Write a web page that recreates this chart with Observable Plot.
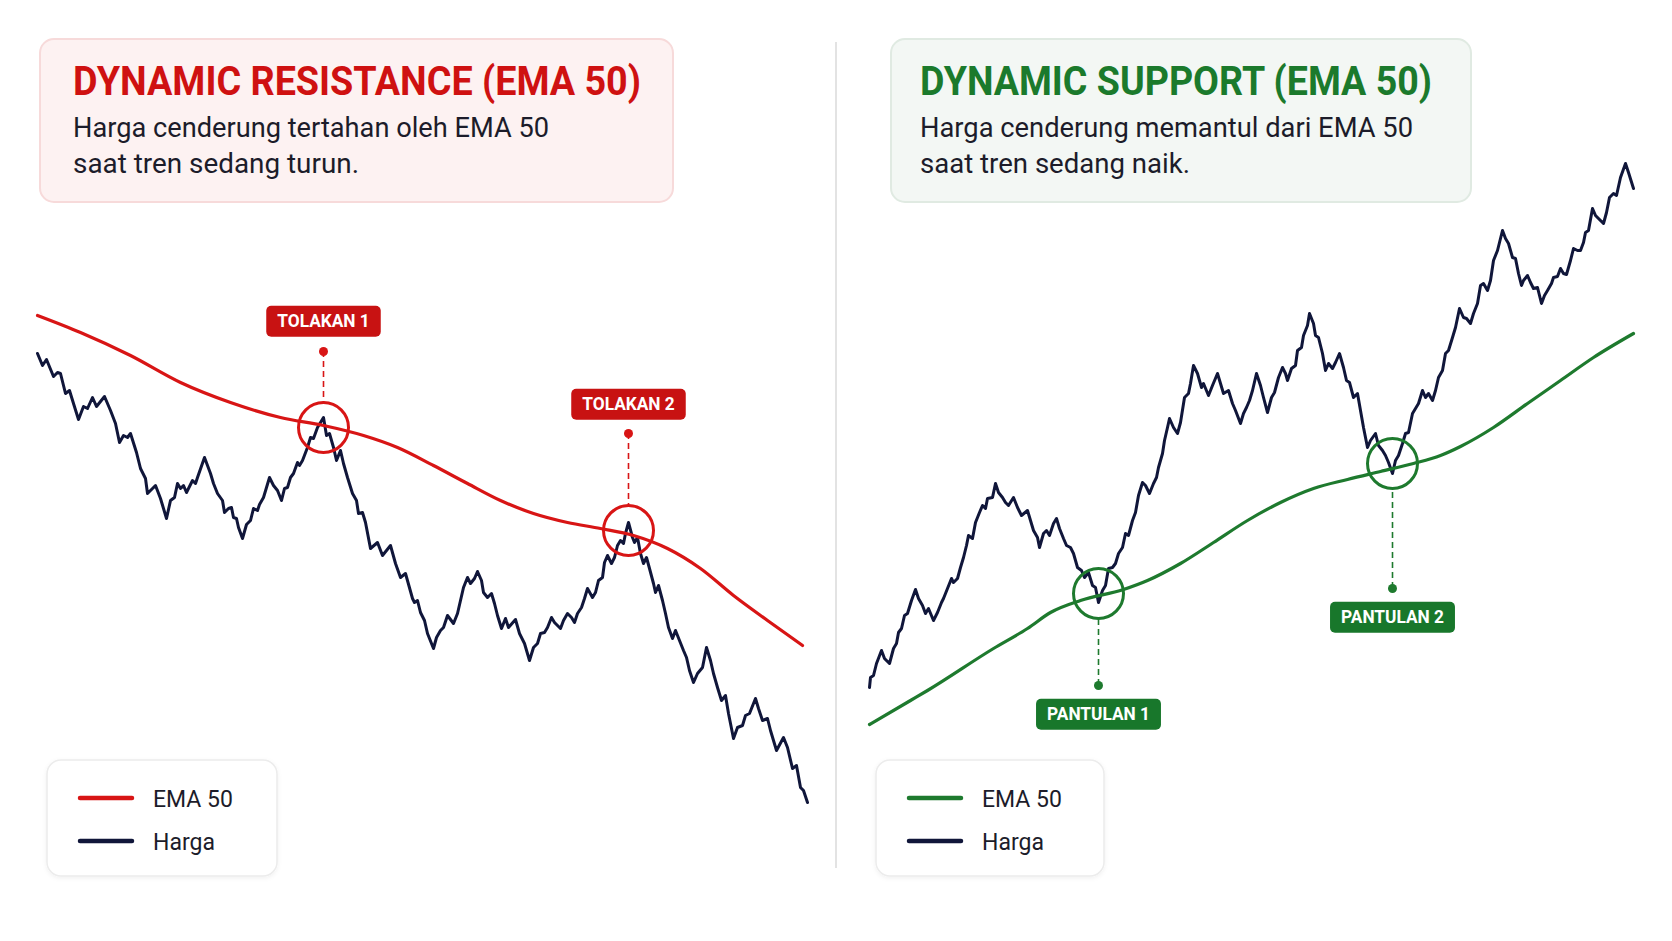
<!DOCTYPE html>
<html><head><meta charset="utf-8">
<script src="https://cdn.jsdelivr.net/npm/d3@7"></script>
<script src="https://cdn.jsdelivr.net/npm/@observablehq/plot@0.6"></script>
<style>
html,body{margin:0;padding:0;background:#fff;}
#wrap{position:relative;width:1672px;height:941px;overflow:hidden;background:#fff;font-family:Roboto,"Noto Sans",sans-serif;}
#left,#right{position:absolute;top:0;width:836px;height:941px;}
#left{left:0}#right{left:836px}
#overlay{position:absolute;left:0;top:0;pointer-events:none;}
</style></head><body>
<div id="wrap"><div id="left"></div><div id="right"></div><svg id="overlay" width="1672" height="941"></svg></div>
<script>
// ---------- DATA ----------
// Left panel (downtrend): [time index, price]
const leftPrice = [[0,547],[5,535],[9,541],[16,524],[20,528],[23,527],[28,507],[32,510],[36,497],[41,481],[46,494],[50,492],[55,503],[59,494],[67,504],[73,490],[78,477],[82,458],[86,465],[90,463],[93,467],[99,448],[103,432],[108,422],[110,407],[115,412],[118,415],[123,402],[129,382],[133,400],[137,403],[140,417],[143,412],[146,415],[149,408],[155,420],[158,417],[160,423],[167,443],[173,427],[176,417],[180,407],[185,400],[187,388],[191,392],[194,393],[196,383],[199,382],[201,373],[205,362],[209,376],[213,380],[216,392],[220,390],[222,396],[226,403],[232,423],[236,415],[240,410],[244,400],[247,412],[250,413],[253,423],[256,427],[260,438],[262,435],[265,440],[270,453],[273,463],[276,462],[280,473],[286,483],[289,465],[292,467],[296,453],[299,440],[303,450],[306,437],[310,423],[315,407],[319,400],[321,387],[325,388],[328,378],[333,352],[340,358],[345,345],[353,355],[358,337],[363,323],[368,327],[375,302],[377,298],[380,300],[383,288],[387,280],[390,267],[396,252],[399,263],[403,270],[406,273],[410,285],[413,281],[416,277],[420,287],[423,300],[426,313],[430,323],[433,317],[437,322],[440,329],[444,320],[446,308],[450,303],[454,307],[457,297],[460,285],[464,272],[468,282],[471,273],[478,281],[482,267],[487,257],[492,240],[496,253],[500,257],[503,267],[507,268],[510,273],[514,283],[517,278],[520,275],[523,272],[526,280],[530,287],[534,283],[537,278],[540,287],[544,293],[547,302],[550,312],[555,303],[558,308],[561,320],[565,323],[567,338],[570,345],[574,337],[577,343],[580,355],[583,360],[586,357],[588,367],[591,378],[595,363],[597,358],[600,363],[603,347],[606,337],[609,343],[612,332],[616,317],[618,308],[621,315],[625,300],[628,287],[631,273],[635,262],[638,270],[642,260],[646,250],[649,243],[652,230],[656,218],[660,227],[665,233],[669,253],[673,240],[676,227],[680,213],[684,200],[688,205],[691,187],[696,162],[700,173],[705,175],[708,185],[712,187],[718,202],[721,192],[725,180],[730,182],[733,170],[739,150],[746,163],[750,153],[755,132],[759,135],[763,113],[766,110],[770,98]];
const leftEma = [[0,585],[43,568],[93,545],[143,518],[193,498],[243,483],[286,475],[326,465],[360,453],[396,435],[430,417],[463,400],[496,387],[530,378],[563,372],[596,365],[630,352],[663,332],[696,305],[730,280],[765,255]];
const leftHitT = [286, 591];
const leftHitP = [473, 370];
const leftDotP = [549, 467];
const leftLabelP = [579, 496];
const leftLabels = ["TOLAKAN 1", "TOLAKAN 2"];

// Right panel (uptrend): [time index, price]
const rightPrice = [[0,213],[1,223],[4,225],[7,237],[12,250],[15,242],[20,237],[24,252],[27,257],[29,268],[32,272],[35,285],[38,287],[42,300],[46,311],[49,302],[53,295],[56,287],[59,292],[64,280],[68,288],[72,298],[74,302],[78,312],[82,322],[84,318],[88,322],[91,333],[94,343],[97,355],[99,365],[103,362],[106,378],[110,388],[113,395],[116,392],[118,402],[123,403],[126,417],[129,408],[133,403],[136,398],[139,395],[144,403],[148,393],[152,385],[158,390],[161,380],[164,370],[168,363],[170,353],[174,367],[177,370],[180,365],[184,377],[187,382],[190,372],[194,362],[197,355],[201,353],[204,347],[208,333],[212,330],[215,323],[219,328],[223,315],[226,313],[229,298],[233,310],[236,315],[239,332],[243,333],[246,337],[249,347],[253,353],[256,367],[259,365],[263,380],[266,388],[269,405],[273,418],[276,415],[280,407],[284,417],[287,423],[289,433],[293,447],[295,460],[298,473],[300,482],[304,473],[308,467],[311,478],[315,503],[319,507],[321,517],[324,535],[328,527],[332,513],[334,517],[339,505],[343,515],[348,527],[351,517],[354,507],[359,510],[363,497],[366,490],[371,477],[374,487],[377,493],[380,500],[383,510],[387,527],[391,515],[394,503],[398,488],[402,503],[405,508],[409,523],[413,533],[416,527],[418,520],[422,532],[426,535],[428,550],[432,553],[434,565],[438,575],[440,587],[444,577],[446,565],[449,563],[453,547],[456,530],[459,537],[463,532],[466,538],[470,547],[474,533],[477,520],[480,518],[484,503],[488,507],[491,490],[494,473],[498,453],[501,460],[506,467],[509,455],[513,450],[516,445],[519,438],[523,427],[526,440],[529,445],[533,457],[536,467],[539,468],[543,487],[546,492],[549,497],[553,510],[556,503],[559,507],[563,500],[566,510],[569,523],[573,530],[576,547],[579,550],[583,563],[586,573],[590,592],[594,583],[597,582],[601,577],[604,587],[608,597],[611,615],[614,617],[618,610],[621,620],[624,640],[628,650],[633,670],[636,662],[639,657],[643,643],[646,642],[649,627],[652,615],[654,620],[658,625],[661,618],[664,612],[668,613],[672,597],[675,605],[678,610],[682,617],[684,623],[688,624],[691,632],[694,627],[697,626],[701,640],[704,652],[708,650],[711,650],[714,658],[716,668],[719,670],[723,692],[726,685],[729,682],[734,677],[737,688],[740,703],[744,707],[747,705],[751,723],[756,737],[759,728],[764,712]];
const rightEma = [[0,176],[41,200],[58,210],[124,252],[158,272],[181,288],[211,300],[254,311],[278,320],[311,337],[344,358],[378,380],[411,398],[444,412],[478,421],[511,429],[544,437],[571,445],[591,454],[624,473],[658,497],[691,520],[724,543],[764,567]];
const rightHitT = [229, 523];
const rightHitP = [307, 437];
const rightDotP = [215, 312];
const rightLabelP = [186, 283];
const rightLabels = ["PANTULAN 1", "PANTULAN 2"];

// Texts
const leftTitle = "DYNAMIC RESISTANCE (EMA 50)";
const leftSub = ["Harga cenderung tertahan oleh EMA 50", "saat tren sedang turun."];
const rightTitle = "DYNAMIC SUPPORT (EMA 50)";
const rightSub = ["Harga cenderung memantul dari EMA 50", "saat tren sedang naik."];
const legendNames = ["EMA 50", "Harga"];

// ---------- STYLE ----------
const NAVY = "#10163a";
const RED = "#d81515";
const RED_DARK = "#c81212";
const GREEN = "#1e7a2e";
const GREEN_DARK = "#18772b";
const TEXT = "#1c1c2a";
const R = 25;
const svgNS = "http://www.w3.org/2000/svg";

function panel(el, cfg) {
  const price = cfg.price.map(([t, p]) => ({t, p}));
  const ema = cfg.ema.map(([t, p]) => ({t, p}));
  const yDomain = [0, 900], yRange = [900, 0];
  const upp = (yDomain[1] - yDomain[0]) / (yRange[0] - yRange[1]);
  const hits = cfg.hitT.map((t, i) => {
    const p = cfg.hitP[i], dot = cfg.dotP[i];
    return {t, p, dot, lab: cfg.labelP[i], label: cfg.labels[i],
      edge: dot > p ? p + R * upp : p - R * upp};
  });
  const chart = Plot.plot({
    width: 836, height: 941, margin: 0,
    style: {background: "transparent", fontFamily: "Roboto, sans-serif"},
    x: {domain: cfg.xDomain, range: cfg.xRange, axis: null},
    y: {domain: yDomain, range: yRange, axis: null},
    marks: [
      Plot.ruleX(hits, {x: "t", y1: "dot", y2: "edge", stroke: cfg.color, strokeWidth: 1.6, strokeDasharray: "6,4"}),
      Plot.line(price, {x: "t", y: "p", stroke: NAVY, strokeWidth: 3, strokeLinejoin: "round", strokeLinecap: "round"}),
      Plot.line(ema, {x: "t", y: "p", stroke: cfg.color, strokeWidth: 3.2, curve: "monotone-x"}),
      Plot.dot(hits, {x: "t", y: "p", r: R, stroke: cfg.color, strokeWidth: 3, fill: "none"}),
      Plot.dot(hits, {x: "t", y: "dot", r: 4.5, fill: cfg.color, stroke: "none"}),
      Plot.text(hits, {x: "t", y: "lab", text: "label", fill: "white", fontSize: 18, fontWeight: 700})
    ]
  });
  el.appendChild(chart);
  d3.select(chart).selectAll('g[aria-label="text"] text').each(function() {
    const natural = this.getComputedTextLength();
    const tl = natural * 0.96;
    this.setAttribute("textLength", tl);
    this.setAttribute("lengthAdjust", "spacingAndGlyphs");
    const bb = this.getBBox();
    const w = tl + 22, h = 31;
    const cx = bb.x + bb.width / 2, cy = bb.y + bb.height / 2 + 0.5;
    const rect = document.createElementNS(svgNS, "rect");
    rect.setAttribute("x", cx - w / 2);
    rect.setAttribute("y", cy - h / 2);
    rect.setAttribute("width", w);
    rect.setAttribute("height", h);
    rect.setAttribute("rx", 5);
    rect.setAttribute("fill", cfg.labelFill);
    rect.setAttribute("stroke", "none");
    const tr = this.getAttribute("transform");
    if (tr) rect.setAttribute("transform", tr);
    this.parentNode.insertBefore(rect, this);
  });
}

panel(document.getElementById("left"), {
  price: leftPrice, ema: leftEma, hitT: leftHitT, hitP: leftHitP, dotP: leftDotP,
  labelP: leftLabelP, labels: leftLabels, color: RED, labelFill: RED_DARK,
  xDomain: [0, 770], xRange: [37, 807]
});
panel(document.getElementById("right"), {
  price: rightPrice, ema: rightEma, hitT: rightHitT, hitP: rightHitP, dotP: rightDotP,
  labelP: rightLabelP, labels: rightLabels, color: GREEN, labelFill: GREEN_DARK,
  xDomain: [0, 764], xRange: [33, 797]
});

// ---------- OVERLAY: titles, legends, divider ----------
const ov = d3.select("#overlay");
const defs = ov.append("defs");
const f = defs.append("filter").attr("id", "sh").attr("x", "-10%").attr("y", "-10%").attr("width", "120%").attr("height", "130%");
f.append("feDropShadow").attr("dx", 0).attr("dy", 1.5).attr("stdDeviation", 2).attr("flood-color", "#000").attr("flood-opacity", 0.06);

ov.append("line").attr("x1", 836).attr("x2", 836).attr("y1", 42).attr("y2", 868)
  .attr("stroke", "#e3e3e3").attr("stroke-width", 2);

function titleBox(x, y, w, h, fill, stroke, tx, title, titleColor, titleLen, subs, subLens) {
  ov.append("rect").attr("x", x).attr("y", y).attr("width", w).attr("height", h).attr("rx", 14)
    .attr("fill", fill).attr("stroke", stroke).attr("stroke-width", 2);
  ov.append("text").attr("x", tx).attr("y", 94.5).text(title)
    .attr("font-family", "Roboto, sans-serif").attr("font-weight", 700).attr("font-size", 40)
    .attr("fill", titleColor).attr("textLength", titleLen).attr("lengthAdjust", "spacingAndGlyphs");
  subs.forEach((s, i) => {
    ov.append("text").attr("x", tx).attr("y", 137 + i * 36).text(s)
      .attr("font-family", "Roboto, sans-serif").attr("font-weight", 400).attr("font-size", 27)
      .attr("fill", TEXT).attr("textLength", subLens[i]).attr("lengthAdjust", "spacingAndGlyphs");
  });
}
titleBox(40, 39, 633, 163, "#fdf2f2", "#f7dada", 73, leftTitle, "#cf1111", 568, leftSub, [476, 286]);
titleBox(891, 39, 580, 163, "#f3f7f4", "#e0eae2", 920, rightTitle, "#1b7a2c", 512, rightSub, [493, 270]);

function legend(x, y, w, h, emaColor) {
  ov.append("rect").attr("x", x).attr("y", y).attr("width", w).attr("height", h).attr("rx", 14)
    .attr("fill", "#fff").attr("stroke", "#ececec").attr("stroke-width", 1.5).attr("filter", "url(#sh)");
  const colors = [emaColor, NAVY];
  legendNames.forEach((name, i) => {
    const ly = y + 38 + i * 43;
    ov.append("line").attr("x1", x + 33).attr("x2", x + 85).attr("y1", ly).attr("y2", ly)
      .attr("stroke", colors[i]).attr("stroke-width", 4.5).attr("stroke-linecap", "round");
    ov.append("text").attr("x", x + 106).attr("y", ly + 8.5).text(name)
      .attr("font-family", "Roboto, sans-serif").attr("font-size", 23).attr("fill", TEXT);
  });
}
legend(47, 760, 230, 116, RED);
legend(876, 760, 228, 116, GREEN);
</script>
</body></html>
